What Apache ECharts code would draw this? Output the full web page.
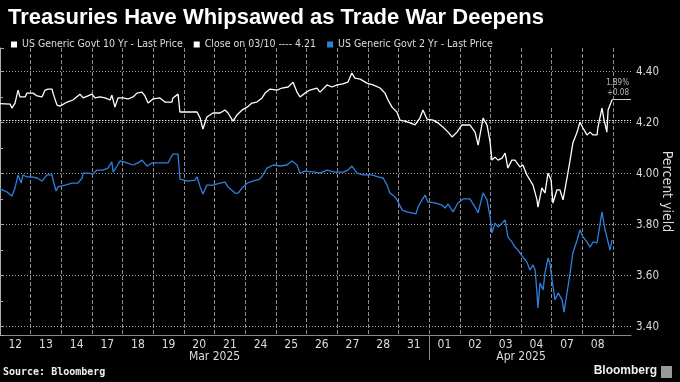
<!DOCTYPE html>
<html><head><meta charset="utf-8">
<script src="https://cdn.jsdelivr.net/npm/echarts@6/dist/echarts.min.js"></script>
<style>html,body{margin:0;padding:0;background:#000}#c{width:680px;height:382px}</style>
</head><body><div id="c"></div><script>
// ---- data ----
const dayLabels = ['12','13','14','17','18','19','20','21','24','25','26','27','28','31','01','02','03','04','07','08'];
const monthNames = ['Mar 2025', 'Apr 2025'];
const monthDayCounts = [14, 6];
const closeRef = 4.21;
const lastAnnot = ['1.89%', '+0.08'];
const yTicks = [3.40, 3.60, 3.80, 4.00, 4.20, 4.40];
// [trading-day position, yield]
const tenYear = [[0.00,4.275],[0.33,4.273],[0.39,4.257],[0.49,4.277],[0.59,4.328],[0.65,4.301],[0.82,4.301],[0.88,4.316],[1.08,4.316],[1.21,4.305],[1.37,4.301],[1.47,4.328],[1.57,4.332],[1.70,4.332],[1.73,4.316],[1.86,4.269],[1.96,4.265],[2.19,4.281],[2.38,4.289],[2.61,4.312],[2.71,4.297],[2.87,4.305],[3.00,4.312],[3.10,4.297],[3.26,4.301],[3.43,4.297],[3.59,4.289],[3.65,4.308],[3.75,4.261],[3.85,4.297],[4.01,4.297],[4.18,4.293],[4.34,4.301],[4.47,4.316],[4.63,4.320],[4.73,4.305],[4.83,4.277],[4.99,4.293],[5.22,4.297],[5.38,4.281],[5.61,4.281],[5.64,4.297],[5.81,4.312],[5.87,4.242],[6.20,4.242],[6.43,4.242],[6.53,4.218],[6.62,4.175],[6.75,4.222],[6.95,4.238],[7.18,4.238],[7.34,4.250],[7.44,4.238],[7.60,4.206],[7.73,4.230],[7.90,4.250],[8.06,4.261],[8.22,4.277],[8.38,4.281],[8.55,4.297],[8.65,4.316],[8.81,4.332],[9.04,4.328],[9.20,4.336],[9.40,4.340],[9.56,4.359],[9.69,4.320],[9.79,4.301],[9.95,4.316],[10.11,4.328],[10.34,4.336],[10.44,4.320],[10.67,4.348],[10.83,4.340],[11.00,4.348],[11.19,4.352],[11.35,4.359],[11.48,4.395],[11.58,4.375],[11.75,4.371],[11.97,4.355],[12.17,4.348],[12.40,4.336],[12.56,4.316],[12.66,4.289],[12.79,4.261],[12.95,4.242],[13.05,4.210],[13.21,4.206],[13.38,4.199],[13.54,4.191],[13.70,4.218],[13.80,4.250],[13.93,4.214],[14.13,4.210],[14.29,4.199],[14.45,4.183],[14.62,4.163],[14.75,4.144],[14.91,4.163],[15.07,4.191],[15.33,4.191],[15.50,4.163],[15.60,4.112],[15.76,4.218],[15.89,4.191],[15.99,4.124],[16.05,4.053],[16.15,4.065],[16.25,4.053],[16.38,4.061],[16.48,4.081],[16.57,4.022],[16.70,4.053],[16.80,4.053],[16.97,4.026],[17.06,4.034],[17.19,3.995],[17.29,3.975],[17.39,3.955],[17.52,3.897],[17.55,3.869],[17.68,3.944],[17.78,3.924],[17.88,4.002],[17.98,3.975],[18.04,3.885],[18.17,3.936],[18.27,3.936],[18.37,3.897],[18.50,3.983],[18.60,4.053],[18.69,4.120],[18.83,4.163],[18.92,4.202],[19.02,4.179],[19.15,4.152],[19.25,4.163],[19.35,4.152],[19.48,4.152],[19.51,4.183],[19.64,4.257],[19.71,4.210],[19.80,4.163],[19.84,4.250],[19.97,4.290]];
const twoYear = [[0.00,3.940],[0.23,3.928],[0.39,3.912],[0.49,3.944],[0.59,3.995],[0.69,3.963],[0.75,3.995],[0.88,3.987],[1.04,3.987],[1.21,3.983],[1.37,3.971],[1.53,3.995],[1.70,3.995],[1.73,3.975],[1.83,3.932],[1.89,3.948],[2.12,3.955],[2.35,3.963],[2.54,3.963],[2.68,3.983],[2.71,4.002],[2.87,4.002],[3.03,3.999],[3.16,4.014],[3.36,4.014],[3.52,4.022],[3.65,4.046],[3.69,4.006],[3.82,4.030],[3.92,4.050],[4.14,4.042],[4.34,4.034],[4.50,4.042],[4.63,4.053],[4.80,4.030],[4.96,4.042],[5.22,4.042],[5.48,4.042],[5.64,4.077],[5.81,4.077],[5.87,3.979],[6.13,3.971],[6.36,3.975],[6.43,3.987],[6.53,3.948],[6.62,3.920],[6.75,3.955],[6.95,3.955],[7.18,3.963],[7.34,3.967],[7.44,3.948],[7.67,3.924],[7.77,3.924],[7.90,3.944],[8.06,3.963],[8.25,3.971],[8.48,3.979],[8.58,3.995],[8.71,4.022],[8.91,4.034],[9.14,4.030],[9.36,4.034],[9.53,4.050],[9.69,4.034],[9.79,4.002],[9.95,4.010],[10.28,4.006],[10.44,4.002],[10.67,4.014],[10.93,4.006],[11.19,4.006],[11.35,4.014],[11.48,4.030],[11.65,4.002],[11.84,3.995],[12.14,3.995],[12.33,3.987],[12.50,3.983],[12.63,3.955],[12.72,3.924],[12.89,3.908],[12.99,3.889],[13.12,3.857],[13.28,3.850],[13.44,3.846],[13.57,3.842],[13.64,3.869],[13.77,3.897],[13.87,3.916],[13.96,3.889],[14.19,3.885],[14.42,3.877],[14.52,3.865],[14.62,3.881],[14.78,3.850],[14.94,3.885],[15.11,3.901],[15.33,3.901],[15.50,3.869],[15.60,3.846],[15.76,3.924],[15.89,3.897],[15.99,3.830],[16.05,3.767],[16.15,3.806],[16.25,3.791],[16.38,3.806],[16.48,3.818],[16.57,3.752],[16.70,3.732],[16.80,3.712],[16.90,3.700],[17.06,3.673],[17.19,3.653],[17.29,3.622],[17.39,3.642],[17.46,3.622],[17.52,3.532],[17.55,3.473],[17.62,3.571],[17.72,3.544],[17.78,3.610],[17.88,3.669],[17.94,3.650],[18.01,3.583],[18.11,3.505],[18.21,3.532],[18.34,3.505],[18.40,3.457],[18.50,3.532],[18.60,3.610],[18.69,3.689],[18.83,3.740],[18.92,3.779],[19.02,3.752],[19.15,3.732],[19.25,3.712],[19.35,3.732],[19.48,3.728],[19.51,3.752],[19.64,3.850],[19.74,3.779],[19.80,3.752],[19.90,3.700],[19.97,3.740]];

// ---- layout ----
const PLOT_W = 631, DAY_W = 30.65;
const xMax = PLOT_W / DAY_W;
const NARROW = "'Liberation Sans Narrow','DejaVu Sans Condensed','Liberation Sans',sans-serif";

const monthAt = {}; const sepAt = {};
let acc = 0;
monthNames.forEach((m, i) => { monthAt[acc + monthDayCounts[i] / 2] = m; acc += monthDayCounts[i]; if (i < monthNames.length - 1) sepAt[acc] = true; });
const boundaryCats = Array.from({length: dayLabels.length + 1}, (_, i) => String(i));
const last10 = tenYear[tenYear.length - 1];

const chart = echarts.init(document.getElementById('c'));
chart.setOption({
  backgroundColor: '#000',
  animation: false,
  title: {
    text: 'Treasuries Have Whipsawed as Trade War Deepens',
    left: 3, top: 2,
    textStyle: {color: '#fff', fontSize: 22, fontWeight: 'bold', fontFamily: "'Liberation Sans',Arial,sans-serif"}
  },
  legend: {
    left: 6, top: 34, icon: 'rect', itemWidth: 6, itemHeight: 6, itemGap: 11, selectedMode: false,
    data: [
      {name: 'US Generic Govt 10 Yr - Last Price', itemStyle: {color: '#fff'}},
      {name: 'Close on 03/10 ---- 4.21', itemStyle: {color: '#fff'}},
      {name: 'US Generic Govt 2 Yr - Last Price', itemStyle: {color: '#2f80dc'}}
    ],
    textStyle: {color: '#ddd', fontSize: 10.5, fontFamily: NARROW}
  },
  grid: [
    {left: 0, right: 680 - PLOT_W, top: 48, bottom: 47, containLabel: false, outerBoundsMode: 'none'},
    {left: 0, width: DAY_W * dayLabels.length, top: 48, bottom: 47, containLabel: false, outerBoundsMode: 'none'}
  ],
  xAxis: [
    {gridIndex: 0, type: 'value', min: 0, max: xMax, interval: 1,
     axisLine: {show: true, lineStyle: {color: '#888', width: 1}},
     axisTick: {show: false}, axisLabel: {show: false},
     splitLine: {show: true, showMinLine: false, showMaxLine: false, lineStyle: {color: '#b0b0b0', type: 'dashed', width: 1, opacity: 0.8}}},
    {gridIndex: 1, type: 'category', data: dayLabels, boundaryGap: true, position: 'bottom',
     axisLine: {show: false}, axisTick: {show: false},
     axisLabel: {interval: 0, color: '#ddd', fontSize: 12, fontFamily: NARROW, margin: 4},
     splitLine: {show: false}},
    {gridIndex: 1, type: 'category', data: boundaryCats, boundaryGap: false, position: 'bottom',
     axisLine: {show: false},
     axisTick: {show: true, interval: (i) => !!sepAt[i], length: 25, lineStyle: {color: '#888'}},
     axisLabel: {interval: 0, color: '#ddd', fontSize: 12, fontFamily: NARROW, margin: 16,
       formatter: (v, i) => monthAt[i] || ''},
     splitLine: {show: false}}
  ],
  yAxis: [
    {gridIndex: 0, type: 'value', position: 'right', min: 3.367, max: 4.493, splitNumber: 5,
     name: 'Percent yield', nameLocation: 'middle', nameRotate: -90, nameGap: 29, nameMoveOverlap: false,
     nameTextStyle: {color: '#ddd', fontSize: 14, fontFamily: NARROW},
     axisLine: {show: true, lineStyle: {color: '#aaa', width: 1}},
     axisTick: {show: true, length: 4, lineStyle: {color: '#aaa'}},
     minorTick: {show: true, splitNumber: 2, length: 3, lineStyle: {color: '#aaa'}},
     axisLabel: {color: '#ddd', fontSize: 11.5, fontFamily: NARROW, margin: 5,
       formatter: (v) => yTicks.some(t => Math.abs(t - v) < 1e-6) ? v.toFixed(2) : ''},
     splitLine: {show: true, showMinLine: false, showMaxLine: false, lineStyle: {color: '#a0a0a0', type: [1, 2], width: 1}}},
    {gridIndex: 1, type: 'value', show: false}
  ],
  series: [
    {name: 'US Generic Govt 10 Yr - Last Price', type: 'line', xAxisIndex: 0, yAxisIndex: 0,
     data: tenYear, showSymbol: false, symbol: 'none', color: '#fff',
     lineStyle: {color: '#fff', width: 1.3}, z: 4,
     markLine: {silent: true, symbol: 'none', animation: false,
       lineStyle: {color: '#ccc', type: 'solid', width: 1},
       label: {show: true, position: 'insideEndTop', formatter: lastAnnot.join('\n'),
         color: '#bbb', fontSize: 8, lineHeight: 10, fontFamily: NARROW, distance: 2},
       data: [[{coord: [last10[0], last10[1]]}, {coord: [xMax, last10[1]]}]]}},
    {name: 'Close on 03/10 ---- 4.21', type: 'line', xAxisIndex: 0, yAxisIndex: 0, data: [],
     color: '#fff', z: 3,
     markLine: {silent: true, symbol: 'none', animation: false,
       lineStyle: {color: '#e8e8e8', type: [1.5, 1.5], width: 1},
       label: {show: false}, data: [{yAxis: closeRef}]}},
    {name: 'US Generic Govt 2 Yr - Last Price', type: 'line', xAxisIndex: 0, yAxisIndex: 0,
     data: twoYear, showSymbol: false, symbol: 'none', color: '#2f80dc',
     lineStyle: {color: '#2f80dc', width: 1.3}, z: 4}
  ],
  graphic: [
    {type: 'text', left: 3, top: 367, style: {text: 'Source: Bloomberg', fill: '#eee', font: "bold 10px 'DejaVu Sans Mono',monospace"}},
    {type: 'text', right: 23, top: 365, style: {text: 'Bloomberg', fill: '#eee', font: "bold 12px 'Liberation Sans',Arial,sans-serif"}},
    {type: 'rect', right: 8, top: 366, shape: {width: 11, height: 12}, style: {fill: '#999'}}
  ]
});
</script></body></html>
